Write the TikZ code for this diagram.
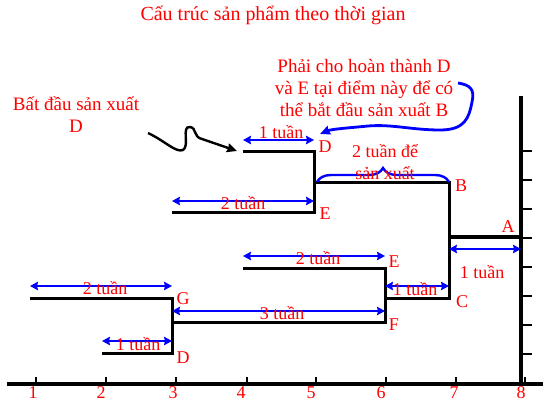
\documentclass[tikz,border=0pt]{standalone}
\usepackage{fontspec}
\setmainfont{Liberation Serif}
\usetikzlibrary{arrows.meta,decorations.pathreplacing}
\definecolor{txtred}{RGB}{255,0,0}
\definecolor{arrblue}{RGB}{0,0,255}
\begin{document}
\begin{tikzpicture}[x=1pt,y=-1pt,
  tree/.style={line width=3pt, line join=miter},
  axisline/.style={line width=3.2pt},
  tickline/.style={line width=2.8pt},
  span/.style={arrblue, line width=2.8pt,
    {Stealth[length=8pt,width=8.5pt,inset=1pt]}-{Stealth[length=8pt,width=8.5pt,inset=1pt]}},
  lbl/.style={text=txtred, font=\fontsize{18}{21.6}\selectfont, inner sep=0pt, anchor=base},
  note/.style={text=txtred, font=\fontsize{19}{22}\selectfont, inner sep=0pt, anchor=base, align=center},
  ]
\useasboundingbox (0,0) rectangle (544,401);

% ---- time axes ----
\coordinate (xa0) at (7,384);
\coordinate (xa1) at (543,384);
\coordinate (ya0) at (521,96);
\coordinate (ya1) at (521,384);
\draw[axisline] (xa0) -- (xa1);
\draw[axisline] (ya0) -- (ya1);
\foreach \x in {36,106,176,247,316,386,456,525}
  \draw[tickline] (\x,384) -- (\x,377);
\foreach \y in {151,180,209,238,267,296,325,354}
  \draw[tickline] (521,\y) -- (532,\y);
\foreach \x/\n in {33/1,101/2,173/3,241/4,311/5,381/6,454/7,521/8}
  \node[lbl] (num\n) at (\x,398) {\n};

% ---- product structure tree ----
\coordinate (d1a) at (243,152);  \coordinate (d1b) at (314,152);
\coordinate (e1b) at (314,213);  \coordinate (e1a) at (172,213);
\coordinate (b0)  at (314,183);  \coordinate (b1)  at (449,183);
\coordinate (c1)  at (449,298);  \coordinate (c0)  at (385,298);
\coordinate (a0)  at (449,237);  \coordinate (a1)  at (521,237);
\coordinate (e2a) at (243,268);  \coordinate (e2b) at (385,268);
\coordinate (f1)  at (385,322);  \coordinate (f0)  at (172,322);
\coordinate (g0)  at (30,298);   \coordinate (g1)  at (172,298);
\coordinate (d2b) at (172,353);  \coordinate (d2a) at (102,353);

\draw[tree] (d1a) -- (d1b) -- (e1b) -- (e1a);
\draw[tree] (b0) -- (b1) -- (c1) -- (c0);
\draw[tree] (a0) -- (a1);
\draw[tree] (e2a) -- (e2b) -- (f1) -- (f0);
\draw[tree] (g0) -- (g1) -- (d2b) -- (d2a);

% ---- lead-time spans ----
\coordinate (s1a) at (243,140); \coordinate (s1b) at (314,140);
\coordinate (s2a) at (172,201); \coordinate (s2b) at (314,201);
\coordinate (s3a) at (243,256); \coordinate (s3b) at (385,256);
\coordinate (s4a) at (172,311); \coordinate (s4b) at (385,311);
\coordinate (s5a) at (385,286); \coordinate (s5b) at (449,286);
\coordinate (s6a) at (30,286);  \coordinate (s6b) at (172,286);
\coordinate (s7a) at (102,341); \coordinate (s7b) at (172,341);
\coordinate (s8a) at (449,249); \coordinate (s8b) at (521,249);
\draw[span] (s1a) -- (s1b);
\draw[span] (s2a) -- (s2b);
\draw[span] (s3a) -- (s3b);
\draw[span] (s4a) -- (s4b);
\draw[span] (s5a) -- (s5b);
\draw[span] (s6a) -- (s6b);
\draw[span] (s7a) -- (s7b);
\draw[span] (s8a) -- (s8b);

% brace over the B stage
\coordinate (br0) at (317,182);
\coordinate (br1) at (449,182);
\draw[arrblue, line width=2.4pt, decorate, decoration={brace, amplitude=14pt}] (br0) -- (br1);

% ---- annotations with arrows ----
\coordinate (sq0) at (148,133);
\coordinate (sq1) at (237,151);
\draw[line width=2.4pt, -{Stealth[length=10pt,width=9pt,inset=1pt]}]
  (sq0) .. controls (165,141) and (176,153) .. (183,150)
        .. controls (190,146) and (181,126) .. (190,127)
        .. controls (197,128) and (193,137) .. (202,139) -- (sq1);

\coordinate (cv0) at (458,83);
\coordinate (cv1) at (320,134);
\draw[arrblue, line width=2.8pt, -{Stealth[length=10pt,width=9pt,inset=1pt]}]
  (cv0) .. controls (470,85) and (475,89) .. (472,102)
        .. controls (469,118) and (465,130) .. (440,130)
        .. controls (412,130) and (392,124) .. (368,126)
        .. controls (348,128) and (332,129) .. (cv1);

% ---- texts ----
\node[note, font=\fontsize{20}{24}\selectfont] (title) at (273,21) {Cấu trúc sản phẩm theo thời gian};
\node[note] (start1) at (76,111) {Bất đầu sản xuất};
\node[note] (start2) at (76,133) {D};
\node[note] (must1) at (364,73) {Phải cho hoàn thành D};
\node[note] (must2) at (364,95) {và E tại điểm này để có};
\node[note] (must3) at (364,117) {thể bắt đầu sản xuất B};

\node[lbl] (lD1) at (325,153) {D};
\node[lbl] (lE1) at (325,220) {E};
\node[lbl] (lB)  at (461,192) {B};
\node[lbl] (lA)  at (508,233) {A};
\node[lbl] (lC)  at (462,307) {C};
\node[lbl] (lE2) at (394,267) {E};
\node[lbl] (lF)  at (394,330) {F};
\node[lbl] (lG)  at (183,304) {G};
\node[lbl] (lD2) at (183,363) {D};

\node[lbl] (t1) at (281,139) {1 tuần};
\node[lbl] (t2) at (243,210) {2 tuần};
\node[lbl] (t3) at (318,264) {2 tuần};
\node[lbl] (t4) at (282,319) {3 tuần};
\node[lbl] (t5) at (415,295) {1 tuần};
\node[lbl] (t6) at (482,278) {1 tuần};
\node[lbl] (t7) at (105,294) {2 tuần};
\node[lbl] (t8) at (138,350) {1 tuần};
\node[lbl] (tb1) at (385,158) {2 tuần để};
\node[lbl] (tb2) at (385,180) {sản xuất};
\end{tikzpicture}
\end{document}
